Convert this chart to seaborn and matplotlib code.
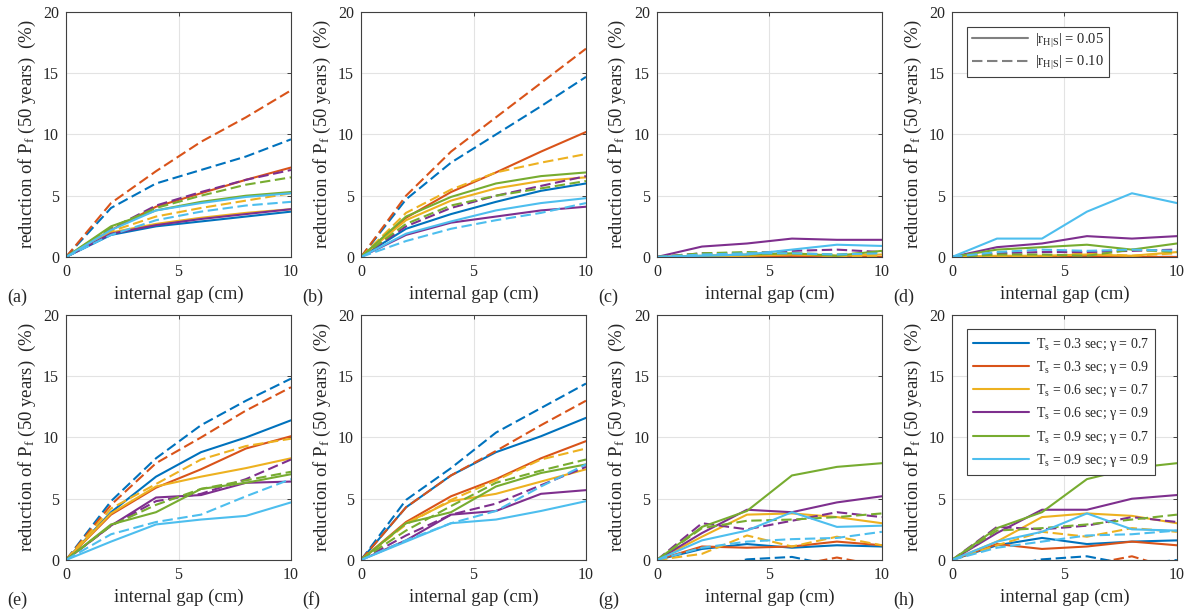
import numpy as np
import pandas as pd
import matplotlib
matplotlib.use("Agg")
import matplotlib.pyplot as plt
from matplotlib.lines import Line2D
import seaborn as sns

# internal gap values (cm)
gap = [0, 2, 4, 6, 8, 10]

cases = ["T$_\\mathrm{s}$ = 0.3 sec; \u03b3 = 0.7",
         "T$_\\mathrm{s}$ = 0.3 sec; \u03b3 = 0.9",
         "T$_\\mathrm{s}$ = 0.6 sec; \u03b3 = 0.7",
         "T$_\\mathrm{s}$ = 0.6 sec; \u03b3 = 0.9",
         "T$_\\mathrm{s}$ = 0.9 sec; \u03b3 = 0.7",
         "T$_\\mathrm{s}$ = 0.9 sec; \u03b3 = 0.9"]
colors = ["#0072BD", "#D95319", "#EDB120", "#7E2F8E", "#77AC30", "#4DBEEE"]
panel_labels = ["(a)", "(b)", "(c)", "(d)", "(e)", "(f)", "(g)", "(h)"]

# rows follow the case order above; solid = |r| 0.05, dashed = |r| 0.10
a_solid = [[0, 1.8, 2.5, 2.9, 3.3, 3.7], [0, 2.2, 4.1, 5.2, 6.3, 7.3], [0, 2.0, 2.7, 3.2, 3.6, 3.9],
           [0, 1.9, 2.6, 3.1, 3.5, 3.9], [0, 2.5, 3.8, 4.5, 5.0, 5.3], [0, 2.2, 3.8, 4.4, 4.9, 5.2]]
a_dashed = [[0, 4.0, 6.0, 7.1, 8.2, 9.6], [0, 4.4, 7.0, 9.4, 11.4, 13.6], [0, 2.1, 3.3, 4.0, 4.6, 5.2],
            [0, 2.3, 4.2, 5.3, 6.3, 7.1], [0, 2.4, 4.0, 5.0, 5.9, 6.5], [0, 1.8, 3.0, 3.7, 4.2, 4.5]]

b_solid = [[0, 2.3, 3.5, 4.5, 5.4, 6.0], [0, 3.2, 5.3, 6.9, 8.6, 10.2], [0, 3.0, 4.6, 5.6, 6.2, 6.5],
           [0, 1.8, 2.8, 3.3, 3.8, 4.1], [0, 3.3, 4.9, 6.0, 6.6, 6.9], [0, 1.9, 2.9, 3.8, 4.4, 4.8]]
b_dashed = [[0, 4.7, 7.7, 10.0, 12.3, 14.7], [0, 5.0, 8.6, 11.4, 14.2, 17.0], [0, 3.6, 5.5, 6.9, 7.7, 8.4],
            [0, 2.5, 4.0, 5.0, 5.8, 6.6], [0, 2.7, 4.2, 5.0, 5.6, 6.2], [0, 1.3, 2.3, 3.0, 3.6, 4.4]]

c_solid = [[0, 0, 0, 0, 0, 0], [0, 0, 0, 0.1, 0, 0], [0, 0, 0.1, 0.2, 0.1, 0.2],
           [0, 0.85, 1.1, 1.5, 1.4, 1.4], [0, 0.1, 0.2, 0.3, 0.1, 0.5], [0, 0.1, 0.2, 0.6, 1.0, 0.9]]
c_dashed = [[0, 0, 0, 0, 0, 0], [0, 0, 0, 0.05, 0, 0], [0, 0.05, 0.1, 0.3, 0.05, 0.1],
            [0, 0.3, 0.3, 0.5, 0.6, 0.4], [0, 0.3, 0.4, 0.3, 0.2, 0.4], [0, 0.2, 0.3, 0.3, 0.2, 0.3]]

d_solid = [[0, 0, 0, 0, 0, 0], [0, 0, 0, 0.1, 0, 0], [0, 0.1, 0.1, 0.2, 0.1, 0.4],
           [0, 0.8, 1.1, 1.7, 1.5, 1.7], [0, 0.6, 0.8, 1.0, 0.6, 1.1], [0, 1.5, 1.5, 3.7, 5.2, 4.4]]
d_dashed = [[0, 0, 0, 0, 0, 0], [0, 0, 0, 0.05, 0, 0], [0, 0, 0.05, 0.3, 0.1, 0.3],
            [0, 0.3, 0.4, 0.4, 0.5, 0.6], [0, 0.2, 0.2, 0.1, 0.6, 0.4], [0, 0.4, 0.6, 0.5, 0.6, 0.5]]

e_solid = [[0, 3.9, 6.8, 8.8, 10.0, 11.4], [0, 3.7, 5.9, 7.4, 9.1, 10.1], [0, 3.8, 6.0, 6.8, 7.5, 8.3],
           [0, 2.8, 5.1, 5.3, 6.3, 6.4], [0, 2.9, 3.9, 5.8, 6.3, 7.0], [0, 1.5, 2.9, 3.3, 3.6, 4.7]]
e_dashed = [[0, 4.8, 8.3, 11.0, 13.0, 14.8], [0, 4.5, 7.9, 10.0, 12.2, 14.1], [0, 4.2, 6.2, 8.2, 9.3, 9.9],
            [0, 2.8, 4.8, 5.4, 6.6, 8.2], [0, 2.8, 4.5, 5.8, 6.5, 7.2], [0, 2.1, 3.1, 3.7, 5.2, 6.6]]

f_solid = [[0, 4.3, 6.9, 8.8, 10.1, 11.6], [0, 3.1, 5.2, 6.6, 8.3, 9.7], [0, 3.0, 4.8, 5.4, 6.4, 7.4],
           [0, 1.6, 3.7, 4.0, 5.4, 5.7], [0, 3.0, 3.9, 6.0, 7.1, 7.8], [0, 1.5, 3.0, 3.3, 4.0, 4.8]]
f_dashed = [[0, 4.9, 7.5, 10.4, 12.4, 14.4], [0, 4.3, 6.9, 8.9, 11.0, 13.0], [0, 2.9, 4.9, 6.5, 8.2, 9.1],
            [0, 2.0, 3.7, 4.6, 6.1, 7.6], [0, 2.4, 4.4, 6.3, 7.3, 8.2], [0, 1.6, 3.0, 4.0, 6.0, 7.8]]

g_solid = [[0, 0.9, 1.3, 1.0, 1.2, 1.1], [0, 1.1, 1.0, 1.1, 1.5, 1.2], [0, 1.9, 3.7, 3.8, 3.5, 3.0],
           [0, 2.2, 4.1, 3.9, 4.7, 5.2], [0, 2.7, 4.0, 6.9, 7.6, 7.9], [0, 1.6, 2.4, 3.9, 2.7, 2.8]]
g_dashed = [[0, -0.8, 0.05, 0.25, -0.5, -1.0], [0, -1.5, -1.0, -0.5, 0.2, -0.5], [0, 0.5, 2.0, 1.1, 1.9, 1.2],
            [0, 3.0, 2.5, 3.2, 3.9, 3.5], [0, 2.6, 3.2, 3.3, 3.5, 3.8], [0, 1.0, 1.5, 1.7, 1.8, 2.3]]

h_solid = [[0, 1.2, 1.8, 1.3, 1.5, 1.6], [0, 1.3, 0.9, 1.1, 1.5, 1.2], [0, 1.5, 3.5, 3.8, 3.6, 3.0],
           [0, 2.2, 4.1, 4.1, 5.0, 5.3], [0, 2.6, 3.9, 6.6, 7.5, 7.9], [0, 1.5, 2.3, 3.8, 2.5, 2.4]]
h_dashed = [[0, -0.6, 0.05, 0.3, -0.4, 0.0], [0, -1.2, -0.8, -0.4, 0.3, -0.8], [0, 1.2, 2.3, 1.9, 2.6, 2.3],
            [0, 2.7, 2.5, 2.8, 3.5, 3.1], [0, 2.4, 2.6, 2.9, 3.3, 3.7], [0, 1.0, 1.5, 2.0, 2.1, 2.4]]

panels = [(a_solid, a_dashed), (b_solid, b_dashed), (c_solid, c_dashed), (d_solid, d_dashed),
          (e_solid, e_dashed), (f_solid, f_dashed), (g_solid, g_dashed), (h_solid, h_dashed)]

sns.set_style("white")
plt.rcParams["font.family"] = ["Liberation Serif", "DejaVu Serif"]
plt.rcParams["mathtext.fontset"] = "custom"
plt.rcParams["mathtext.rm"] = "Liberation Serif"
plt.rcParams["mathtext.it"] = "Liberation Serif:italic"
plt.rcParams["text.color"] = "#262626"

fig = plt.figure(figsize=(11.9, 6.13), dpi=100)

lefts = [0.0555, 0.3034, 0.5521, 0.800]
bottoms = [0.5808, 0.0865]
w, h = 0.189, 0.3997

for k, (solid, dashed) in enumerate(panels):
    row, col = divmod(k, 4)
    ax = fig.add_axes([lefts[col], bottoms[row], w, h])

    rows = []
    for i, case in enumerate(cases):
        for xv, yv in zip(gap, solid[i]):
            rows.append((case, "0.05", xv, yv))
        for xv, yv in zip(gap, dashed[i]):
            rows.append((case, "0.10", xv, yv))
    df = pd.DataFrame(rows, columns=["case", "r", "gap", "val"])

    sns.lineplot(data=df, x="gap", y="val", hue="case", style="r",
                 hue_order=cases, palette=colors, style_order=["0.05", "0.10"],
                 dashes={"0.05": "", "0.10": (5, 2.2)}, linewidth=1.5,
                 estimator=None, errorbar=None, legend=False, ax=ax)

    ax.set_xlim(0, 10)
    ax.set_ylim(0, 20)
    ax.set_xticks([0, 5, 10])
    ax.set_yticks([0, 5, 10, 15, 20])
    ax.grid(True, color="#e3e3e3", linewidth=0.8)
    ax.set_axisbelow(True)
    ax.tick_params(direction="in", top=True, right=True, length=3, width=0.7,
                   labelsize=11.5, colors="#404040", labelcolor="#262626", pad=5)
    for sp in ax.spines.values():
        sp.set_color("#404040")
        sp.set_linewidth(0.8)
    ax.set_xlabel("internal gap (cm)", fontsize=13.5, labelpad=4)
    ax.set_ylabel("reduction of P$_\\mathrm{f}$ (50 years)  (%)", fontsize=13.5, labelpad=4)

    fig.text(lefts[col] - 0.049, bottoms[row] - 0.066, panel_labels[k],
             fontsize=13, ha="left", va="center")

    if k == 3:
        handles = [Line2D([], [], color="#808080", lw=1.5),
                   Line2D([], [], color="#808080", lw=1.5, dashes=(5, 2.2))]
        leg = ax.legend(handles, ["|r$_\\mathrm{H|S}$| = 0.05", "|r$_\\mathrm{H|S}$| = 0.10"],
                        loc="upper left", bbox_to_anchor=(0.035, 0.97), fontsize=10.5,
                        handlelength=3.8, fancybox=False, framealpha=1, borderpad=0.35,
                        labelspacing=0.3, handletextpad=0.5)
        leg.get_frame().set_edgecolor("#404040")
        leg.get_frame().set_linewidth(0.8)
    if k == 7:
        handles = [Line2D([], [], color=c, lw=1.5) for c in colors]
        leg = ax.legend(handles, cases, loc="upper left", bbox_to_anchor=(0.035, 0.97),
                        fontsize=10, handlelength=4.0, fancybox=False, framealpha=1,
                        borderpad=0.45, labelspacing=0.45, handletextpad=0.5)
        leg.get_frame().set_edgecolor("#404040")
        leg.get_frame().set_linewidth(0.8)

fig.savefig("out.png", dpi=100)
